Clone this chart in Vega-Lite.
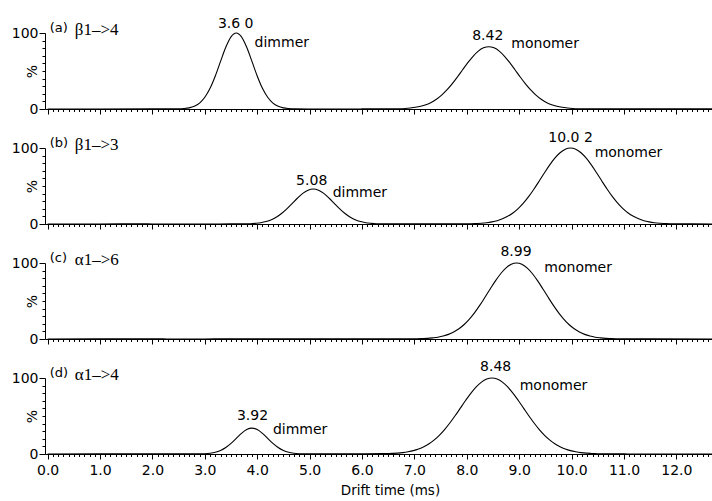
{
"$schema":"https://vega.github.io/schema/vega-lite/v6.json",
"padding":{"left":11,"top":16,"right":0,"bottom":3},
"config":{"view":{"stroke":null},"font":"DejaVu Sans"},
"datasets":{
"curves":[
{"p":"a","t":0,"v":0},{"p":"a","t":1,"v":0},{"p":"a","t":2,"v":0.1},{"p":"a","t":2.4,"v":0.1},{"p":"a","t":2.5,"v":0.2},{"p":"a","t":2.6,"v":0.6},{"p":"a","t":2.7,"v":1.5},{"p":"a","t":2.8,"v":3.6},{"p":"a","t":2.9,"v":7.8},{"p":"a","t":3.0,"v":15.4},{"p":"a","t":3.1,"v":27.2},{"p":"a","t":3.2,"v":43.5},{"p":"a","t":3.3,"v":62.6},{"p":"a","t":3.4,"v":81.2},{"p":"a","t":3.5,"v":94.9},{"p":"a","t":3.6,"v":100},{"p":"a","t":3.7,"v":94.9},{"p":"a","t":3.8,"v":81.2},{"p":"a","t":3.9,"v":62.6},{"p":"a","t":4.0,"v":43.5},{"p":"a","t":4.1,"v":27.2},{"p":"a","t":4.2,"v":15.4},{"p":"a","t":4.3,"v":7.8},{"p":"a","t":4.4,"v":3.6},{"p":"a","t":4.5,"v":1.5},{"p":"a","t":4.6,"v":0.6},{"p":"a","t":4.7,"v":0.2},{"p":"a","t":5.0,"v":0},{"p":"a","t":6.0,"v":0.1},{"p":"a","t":6.5,"v":0.2},
{"p":"a","t":6.72,"v":0.4},{"p":"a","t":6.82,"v":0.7},{"p":"a","t":6.92,"v":1.3},{"p":"a","t":7.02,"v":2.2},{"p":"a","t":7.12,"v":3.6},{"p":"a","t":7.22,"v":5.7},{"p":"a","t":7.32,"v":8.7},{"p":"a","t":7.42,"v":12.9},{"p":"a","t":7.52,"v":18.3},{"p":"a","t":7.62,"v":25.1},{"p":"a","t":7.72,"v":33.1},{"p":"a","t":7.82,"v":42.1},{"p":"a","t":7.92,"v":51.6},{"p":"a","t":8.02,"v":61.0},{"p":"a","t":8.12,"v":69.4},{"p":"a","t":8.22,"v":76.2},{"p":"a","t":8.32,"v":80.5},{"p":"a","t":8.42,"v":82},{"p":"a","t":8.52,"v":80.5},{"p":"a","t":8.62,"v":76.2},{"p":"a","t":8.72,"v":69.4},{"p":"a","t":8.82,"v":61.0},{"p":"a","t":8.92,"v":51.6},{"p":"a","t":9.02,"v":42.1},{"p":"a","t":9.12,"v":33.1},{"p":"a","t":9.22,"v":25.1},{"p":"a","t":9.32,"v":18.3},{"p":"a","t":9.42,"v":12.9},{"p":"a","t":9.52,"v":8.7},{"p":"a","t":9.62,"v":5.7},{"p":"a","t":9.72,"v":3.6},{"p":"a","t":9.82,"v":2.2},{"p":"a","t":9.92,"v":1.3},{"p":"a","t":10.02,"v":0.7},{"p":"a","t":10.12,"v":0.4},{"p":"a","t":10.5,"v":0.2},{"p":"a","t":11.0,"v":0.1},{"p":"a","t":12.0,"v":0.3},{"p":"a","t":12.68,"v":0.2},
{"p":"b","t":0,"v":0},{"p":"b","t":1.0,"v":0},{"p":"b","t":1.8,"v":0.3},{"p":"b","t":2.0,"v":0},{"p":"b","t":3.0,"v":0},{"p":"b","t":3.5,"v":0.1},
{"p":"b","t":3.87,"v":0.4},{"p":"b","t":3.97,"v":0.9},{"p":"b","t":4.07,"v":1.7},{"p":"b","t":4.17,"v":3.2},{"p":"b","t":4.27,"v":5.6},{"p":"b","t":4.37,"v":9.2},{"p":"b","t":4.47,"v":14.1},{"p":"b","t":4.57,"v":20.2},{"p":"b","t":4.67,"v":27.2},{"p":"b","t":4.77,"v":34.2},{"p":"b","t":4.87,"v":40.3},{"p":"b","t":4.97,"v":44.5},{"p":"b","t":5.07,"v":46},{"p":"b","t":5.17,"v":44.5},{"p":"b","t":5.27,"v":40.3},{"p":"b","t":5.37,"v":34.2},{"p":"b","t":5.47,"v":27.2},{"p":"b","t":5.57,"v":20.2},{"p":"b","t":5.67,"v":14.1},{"p":"b","t":5.77,"v":9.2},{"p":"b","t":5.87,"v":5.6},{"p":"b","t":5.97,"v":3.2},{"p":"b","t":6.07,"v":1.7},{"p":"b","t":6.17,"v":0.9},{"p":"b","t":6.27,"v":0.4},{"p":"b","t":6.6,"v":0.1},{"p":"b","t":7.2,"v":0.2},{"p":"b","t":7.7,"v":0.3},
{"p":"b","t":8.08,"v":0.3},{"p":"b","t":8.18,"v":0.6},{"p":"b","t":8.28,"v":1.0},{"p":"b","t":8.38,"v":1.7},{"p":"b","t":8.48,"v":2.8},{"p":"b","t":8.58,"v":4.4},{"p":"b","t":8.68,"v":6.8},{"p":"b","t":8.78,"v":10.1},{"p":"b","t":8.88,"v":14.5},{"p":"b","t":8.98,"v":20.3},{"p":"b","t":9.08,"v":27.5},{"p":"b","t":9.18,"v":36.0},{"p":"b","t":9.28,"v":45.8},{"p":"b","t":9.38,"v":56.3},{"p":"b","t":9.48,"v":67.1},{"p":"b","t":9.58,"v":77.5},{"p":"b","t":9.68,"v":86.6},{"p":"b","t":9.78,"v":93.8},{"p":"b","t":9.88,"v":98.4},{"p":"b","t":9.98,"v":100},{"p":"b","t":10.08,"v":98.4},{"p":"b","t":10.18,"v":93.8},{"p":"b","t":10.28,"v":86.6},{"p":"b","t":10.38,"v":77.5},{"p":"b","t":10.48,"v":67.1},{"p":"b","t":10.58,"v":56.3},{"p":"b","t":10.68,"v":45.8},{"p":"b","t":10.78,"v":36.0},{"p":"b","t":10.88,"v":27.5},{"p":"b","t":10.98,"v":20.3},{"p":"b","t":11.08,"v":14.5},{"p":"b","t":11.18,"v":10.1},{"p":"b","t":11.28,"v":6.8},{"p":"b","t":11.38,"v":4.4},{"p":"b","t":11.48,"v":2.8},{"p":"b","t":11.58,"v":1.7},{"p":"b","t":11.68,"v":1.0},{"p":"b","t":11.78,"v":0.6},{"p":"b","t":11.88,"v":0.3},{"p":"b","t":12.3,"v":0.1},{"p":"b","t":12.68,"v":0},
{"p":"c","t":0,"v":0},{"p":"c","t":1.0,"v":0.1},{"p":"c","t":1.7,"v":0.3},{"p":"c","t":2.2,"v":0.1},{"p":"c","t":3.0,"v":0},{"p":"c","t":3.4,"v":0.2},{"p":"c","t":4.0,"v":0.1},{"p":"c","t":5.0,"v":0.1},{"p":"c","t":6.0,"v":0.1},{"p":"c","t":6.6,"v":0.2},
{"p":"c","t":7.05,"v":0.3},{"p":"c","t":7.15,"v":0.5},{"p":"c","t":7.25,"v":0.8},{"p":"c","t":7.35,"v":1.5},{"p":"c","t":7.45,"v":2.4},{"p":"c","t":7.55,"v":3.9},{"p":"c","t":7.65,"v":6.1},{"p":"c","t":7.75,"v":9.3},{"p":"c","t":7.85,"v":13.5},{"p":"c","t":7.95,"v":19.1},{"p":"c","t":8.05,"v":26.2},{"p":"c","t":8.15,"v":34.7},{"p":"c","t":8.25,"v":44.5},{"p":"c","t":8.35,"v":55.2},{"p":"c","t":8.45,"v":66.2},{"p":"c","t":8.55,"v":76.8},{"p":"c","t":8.65,"v":86.2},{"p":"c","t":8.75,"v":93.6},{"p":"c","t":8.85,"v":98.4},{"p":"c","t":8.95,"v":100},{"p":"c","t":9.05,"v":98.4},{"p":"c","t":9.15,"v":93.6},{"p":"c","t":9.25,"v":86.2},{"p":"c","t":9.35,"v":76.8},{"p":"c","t":9.45,"v":66.2},{"p":"c","t":9.55,"v":55.2},{"p":"c","t":9.65,"v":44.5},{"p":"c","t":9.75,"v":34.7},{"p":"c","t":9.85,"v":26.2},{"p":"c","t":9.95,"v":19.1},{"p":"c","t":10.05,"v":13.5},{"p":"c","t":10.15,"v":9.3},{"p":"c","t":10.25,"v":6.1},{"p":"c","t":10.35,"v":3.9},{"p":"c","t":10.45,"v":2.4},{"p":"c","t":10.55,"v":1.5},{"p":"c","t":10.65,"v":0.8},{"p":"c","t":10.75,"v":0.5},{"p":"c","t":10.85,"v":0.3},{"p":"c","t":11.5,"v":0.1},{"p":"c","t":12.68,"v":0},
{"p":"d","t":0,"v":0},{"p":"d","t":1.0,"v":0.1},{"p":"d","t":2.0,"v":0.1},{"p":"d","t":2.7,"v":0.2},
{"p":"d","t":2.9,"v":0.2},{"p":"d","t":3.0,"v":0.4},{"p":"d","t":3.1,"v":1.0},{"p":"d","t":3.2,"v":2.2},{"p":"d","t":3.3,"v":4.6},{"p":"d","t":3.4,"v":8.5},{"p":"d","t":3.5,"v":14.0},{"p":"d","t":3.6,"v":20.6},{"p":"d","t":3.7,"v":27.2},{"p":"d","t":3.8,"v":32.2},{"p":"d","t":3.9,"v":34},{"p":"d","t":4.0,"v":32.2},{"p":"d","t":4.1,"v":27.2},{"p":"d","t":4.2,"v":20.6},{"p":"d","t":4.3,"v":14.0},{"p":"d","t":4.4,"v":8.5},{"p":"d","t":4.5,"v":4.6},{"p":"d","t":4.6,"v":2.2},{"p":"d","t":4.7,"v":1.0},{"p":"d","t":4.8,"v":0.4},{"p":"d","t":4.9,"v":0.1},{"p":"d","t":5.5,"v":0.1},{"p":"d","t":6.0,"v":0.3},
{"p":"d","t":6.38,"v":0.5},{"p":"d","t":6.48,"v":0.6},{"p":"d","t":6.58,"v":0.8},{"p":"d","t":6.68,"v":1.1},{"p":"d","t":6.78,"v":1.8},{"p":"d","t":6.88,"v":2.9},{"p":"d","t":6.98,"v":4.4},{"p":"d","t":7.08,"v":6.6},{"p":"d","t":7.18,"v":9.6},{"p":"d","t":7.28,"v":13.5},{"p":"d","t":7.38,"v":18.6},{"p":"d","t":7.48,"v":24.9},{"p":"d","t":7.58,"v":32.5},{"p":"d","t":7.68,"v":41.1},{"p":"d","t":7.78,"v":50.6},{"p":"d","t":7.88,"v":60.7},{"p":"d","t":7.98,"v":70.7},{"p":"d","t":8.08,"v":80.1},{"p":"d","t":8.18,"v":88.2},{"p":"d","t":8.28,"v":94.6},{"p":"d","t":8.38,"v":98.6},{"p":"d","t":8.48,"v":100},{"p":"d","t":8.58,"v":98.6},{"p":"d","t":8.68,"v":94.6},{"p":"d","t":8.78,"v":88.2},{"p":"d","t":8.88,"v":80.1},{"p":"d","t":8.98,"v":70.7},{"p":"d","t":9.08,"v":60.7},{"p":"d","t":9.18,"v":50.6},{"p":"d","t":9.28,"v":41.1},{"p":"d","t":9.38,"v":32.5},{"p":"d","t":9.48,"v":24.9},{"p":"d","t":9.58,"v":18.6},{"p":"d","t":9.68,"v":13.5},{"p":"d","t":9.78,"v":9.6},{"p":"d","t":9.88,"v":6.6},{"p":"d","t":9.98,"v":4.4},{"p":"d","t":10.08,"v":2.9},{"p":"d","t":10.18,"v":1.8},{"p":"d","t":10.28,"v":1.1},{"p":"d","t":10.38,"v":0.7},{"p":"d","t":10.48,"v":0.4},{"p":"d","t":10.58,"v":0.2},{"p":"d","t":11.0,"v":0.1},{"p":"d","t":12.0,"v":0},{"p":"d","t":12.68,"v":0}
],
"labels":[
{"p":"a","k":"val","t":3.59,"v":112,"label":"3.6 0"},{"p":"a","k":"name","t":3.95,"v":87,"label":"dimmer"},{"p":"a","k":"val","t":8.40,"v":96,"label":"8.42"},{"p":"a","k":"name","t":8.85,"v":86,"label":"monomer"},{"p":"a","k":"tag","t":0.04,"v":107,"label":"(a)"},{"p":"a","k":"greek","t":0.52,"v":104,"label":"β1–>4"},
{"p":"b","k":"val","t":5.04,"v":56,"label":"5.08"},{"p":"b","k":"name","t":5.44,"v":41,"label":"dimmer"},{"p":"b","k":"val","t":9.98,"v":113,"label":"10.0 2"},{"p":"b","k":"name","t":10.44,"v":93,"label":"monomer"},{"p":"b","k":"tag","t":0.04,"v":107,"label":"(b)"},{"p":"b","k":"greek","t":0.52,"v":104,"label":"β1–>3"},
{"p":"c","k":"val","t":8.94,"v":115,"label":"8.99"},{"p":"c","k":"name","t":9.48,"v":94,"label":"monomer"},{"p":"c","k":"tag","t":0.04,"v":107,"label":"(c)"},{"p":"c","k":"greek","t":0.52,"v":104,"label":"α1–>6"},
{"p":"d","k":"val","t":3.91,"v":50,"label":"3.92"},{"p":"d","k":"name","t":4.30,"v":31,"label":"dimmer"},{"p":"d","k":"val","t":8.55,"v":115,"label":"8.48"},{"p":"d","k":"name","t":9.01,"v":90,"label":"monomer"},{"p":"d","k":"tag","t":0.04,"v":107,"label":"(d)"},{"p":"d","k":"greek","t":0.52,"v":104,"label":"α1–>4"}
]
},
"vconcat":[
{"width":667,"height":76,
"encoding":{
"x":{"field":"t","type":"quantitative","scale":{"domain":[-0.05,12.68],"nice":false,"zero":false},"axis":{"values":[0,0.1,0.2,0.3,0.4,0.5,0.6,0.7,0.8,0.9,1,1.1,1.2,1.3,1.4,1.5,1.6,1.7,1.8,1.9,2,2.1,2.2,2.3,2.4,2.5,2.6,2.7,2.8,2.9,3,3.1,3.2,3.3,3.4,3.5,3.6,3.7,3.8,3.9,4,4.1,4.2,4.3,4.4,4.5,4.6,4.7,4.8,4.9,5,5.1,5.2,5.3,5.4,5.5,5.6,5.7,5.8,5.9,6,6.1,6.2,6.3,6.4,6.5,6.6,6.7,6.8,6.9,7,7.1,7.2,7.3,7.4,7.5,7.6,7.7,7.8,7.9,8,8.1,8.2,8.3,8.4,8.5,8.6,8.7,8.8,8.9,9,9.1,9.2,9.3,9.4,9.5,9.6,9.7,9.8,9.9,10,10.1,10.2,10.3,10.4,10.5,10.6,10.7,10.8,10.9,11,11.1,11.2,11.3,11.4,11.5,11.6,11.7,11.8,11.9,12,12.1,12.2,12.3,12.4,12.5,12.6],"labels":false,"title":null,"grid":false,"domainColor":"black","tickColor":"black","tickSize":{"condition":{"test":"abs(datum.value-round(datum.value))<0.001","value":5},"value":2.5}}},
"y":{"field":"v","type":"quantitative","scale":{"domain":[0,100],"nice":false},"axis":{"values":[0,10,20,30,40,50,60,70,80,90,100],"labelExpr":"datum.value==0||datum.value==100 ? datum.label : ''","tickSize":{"condition":{"test":"datum.value==0||datum.value==100","value":6},"value":3},"labelFont":"DejaVu Sans","labelFontSize":14,"labelColor":"black","labelPadding":1,"labelOverlap":false,"labelFlush":false,"title":"%","titleFont":"DejaVu Sans","titleFontSize":14,"titleFontWeight":"normal","titleColor":"black","titleX":-13,"titleY":38,"titleBaseline":"middle","titleAlign":"center","titleAngle":270,"domainColor":"black","tickColor":"black","grid":false}}},
"layer":[
{"data":{"name":"curves"},"transform":[{"filter":"datum.p==='a'"}],"mark":{"type":"line","color":"black","strokeWidth":1.1,"interpolate":"monotone"}},
{"data":{"name":"labels"},"transform":[{"filter":"datum.p==='a' && datum.k==='val'"}],"mark":{"type":"text","align":"center","baseline":"middle","font":"DejaVu Sans","fontSize":14,"color":"black"},"encoding":{"text":{"field":"label"}}},
{"data":{"name":"labels"},"transform":[{"filter":"datum.p==='a' && datum.k==='name'"}],"mark":{"type":"text","align":"left","baseline":"middle","font":"DejaVu Sans","fontSize":14,"color":"black"},"encoding":{"text":{"field":"label"}}},
{"data":{"name":"labels"},"transform":[{"filter":"datum.p==='a' && datum.k==='tag'"}],"mark":{"type":"text","align":"left","baseline":"middle","font":"DejaVu Sans","fontSize":13,"color":"black"},"encoding":{"text":{"field":"label"}}},
{"data":{"name":"labels"},"transform":[{"filter":"datum.p==='a' && datum.k==='greek'"}],"mark":{"type":"text","align":"left","baseline":"middle","font":"Liberation Serif","fontSize":17,"color":"black"},"encoding":{"text":{"field":"label"}}}
]},
{"width":667,"height":76,
"encoding":{
"x":{"field":"t","type":"quantitative","scale":{"domain":[-0.05,12.68],"nice":false,"zero":false},"axis":{"values":[0,0.1,0.2,0.3,0.4,0.5,0.6,0.7,0.8,0.9,1,1.1,1.2,1.3,1.4,1.5,1.6,1.7,1.8,1.9,2,2.1,2.2,2.3,2.4,2.5,2.6,2.7,2.8,2.9,3,3.1,3.2,3.3,3.4,3.5,3.6,3.7,3.8,3.9,4,4.1,4.2,4.3,4.4,4.5,4.6,4.7,4.8,4.9,5,5.1,5.2,5.3,5.4,5.5,5.6,5.7,5.8,5.9,6,6.1,6.2,6.3,6.4,6.5,6.6,6.7,6.8,6.9,7,7.1,7.2,7.3,7.4,7.5,7.6,7.7,7.8,7.9,8,8.1,8.2,8.3,8.4,8.5,8.6,8.7,8.8,8.9,9,9.1,9.2,9.3,9.4,9.5,9.6,9.7,9.8,9.9,10,10.1,10.2,10.3,10.4,10.5,10.6,10.7,10.8,10.9,11,11.1,11.2,11.3,11.4,11.5,11.6,11.7,11.8,11.9,12,12.1,12.2,12.3,12.4,12.5,12.6],"labels":false,"title":null,"grid":false,"domainColor":"black","tickColor":"black","tickSize":{"condition":{"test":"abs(datum.value-round(datum.value))<0.001","value":5},"value":2.5}}},
"y":{"field":"v","type":"quantitative","scale":{"domain":[0,100],"nice":false},"axis":{"values":[0,10,20,30,40,50,60,70,80,90,100],"labelExpr":"datum.value==0||datum.value==100 ? datum.label : ''","tickSize":{"condition":{"test":"datum.value==0||datum.value==100","value":6},"value":3},"labelFont":"DejaVu Sans","labelFontSize":14,"labelColor":"black","labelPadding":1,"labelOverlap":false,"labelFlush":false,"title":"%","titleFont":"DejaVu Sans","titleFontSize":14,"titleFontWeight":"normal","titleColor":"black","titleX":-13,"titleY":38,"titleBaseline":"middle","titleAlign":"center","titleAngle":270,"domainColor":"black","tickColor":"black","grid":false}}},
"layer":[
{"data":{"name":"curves"},"transform":[{"filter":"datum.p==='b'"}],"mark":{"type":"line","color":"black","strokeWidth":1.1,"interpolate":"monotone"}},
{"data":{"name":"labels"},"transform":[{"filter":"datum.p==='b' && datum.k==='val'"}],"mark":{"type":"text","align":"center","baseline":"middle","font":"DejaVu Sans","fontSize":14,"color":"black"},"encoding":{"text":{"field":"label"}}},
{"data":{"name":"labels"},"transform":[{"filter":"datum.p==='b' && datum.k==='name'"}],"mark":{"type":"text","align":"left","baseline":"middle","font":"DejaVu Sans","fontSize":14,"color":"black"},"encoding":{"text":{"field":"label"}}},
{"data":{"name":"labels"},"transform":[{"filter":"datum.p==='b' && datum.k==='tag'"}],"mark":{"type":"text","align":"left","baseline":"middle","font":"DejaVu Sans","fontSize":13,"color":"black"},"encoding":{"text":{"field":"label"}}},
{"data":{"name":"labels"},"transform":[{"filter":"datum.p==='b' && datum.k==='greek'"}],"mark":{"type":"text","align":"left","baseline":"middle","font":"Liberation Serif","fontSize":17,"color":"black"},"encoding":{"text":{"field":"label"}}}
]},
{"width":667,"height":76,
"encoding":{
"x":{"field":"t","type":"quantitative","scale":{"domain":[-0.05,12.68],"nice":false,"zero":false},"axis":{"values":[0,0.1,0.2,0.3,0.4,0.5,0.6,0.7,0.8,0.9,1,1.1,1.2,1.3,1.4,1.5,1.6,1.7,1.8,1.9,2,2.1,2.2,2.3,2.4,2.5,2.6,2.7,2.8,2.9,3,3.1,3.2,3.3,3.4,3.5,3.6,3.7,3.8,3.9,4,4.1,4.2,4.3,4.4,4.5,4.6,4.7,4.8,4.9,5,5.1,5.2,5.3,5.4,5.5,5.6,5.7,5.8,5.9,6,6.1,6.2,6.3,6.4,6.5,6.6,6.7,6.8,6.9,7,7.1,7.2,7.3,7.4,7.5,7.6,7.7,7.8,7.9,8,8.1,8.2,8.3,8.4,8.5,8.6,8.7,8.8,8.9,9,9.1,9.2,9.3,9.4,9.5,9.6,9.7,9.8,9.9,10,10.1,10.2,10.3,10.4,10.5,10.6,10.7,10.8,10.9,11,11.1,11.2,11.3,11.4,11.5,11.6,11.7,11.8,11.9,12,12.1,12.2,12.3,12.4,12.5,12.6],"labels":false,"title":null,"grid":false,"domainColor":"black","tickColor":"black","tickSize":{"condition":{"test":"abs(datum.value-round(datum.value))<0.001","value":5},"value":2.5}}},
"y":{"field":"v","type":"quantitative","scale":{"domain":[0,100],"nice":false},"axis":{"values":[0,10,20,30,40,50,60,70,80,90,100],"labelExpr":"datum.value==0||datum.value==100 ? datum.label : ''","tickSize":{"condition":{"test":"datum.value==0||datum.value==100","value":6},"value":3},"labelFont":"DejaVu Sans","labelFontSize":14,"labelColor":"black","labelPadding":1,"labelOverlap":false,"labelFlush":false,"title":"%","titleFont":"DejaVu Sans","titleFontSize":14,"titleFontWeight":"normal","titleColor":"black","titleX":-13,"titleY":38,"titleBaseline":"middle","titleAlign":"center","titleAngle":270,"domainColor":"black","tickColor":"black","grid":false}}},
"layer":[
{"data":{"name":"curves"},"transform":[{"filter":"datum.p==='c'"}],"mark":{"type":"line","color":"black","strokeWidth":1.1,"interpolate":"monotone"}},
{"data":{"name":"labels"},"transform":[{"filter":"datum.p==='c' && datum.k==='val'"}],"mark":{"type":"text","align":"center","baseline":"middle","font":"DejaVu Sans","fontSize":14,"color":"black"},"encoding":{"text":{"field":"label"}}},
{"data":{"name":"labels"},"transform":[{"filter":"datum.p==='c' && datum.k==='name'"}],"mark":{"type":"text","align":"left","baseline":"middle","font":"DejaVu Sans","fontSize":14,"color":"black"},"encoding":{"text":{"field":"label"}}},
{"data":{"name":"labels"},"transform":[{"filter":"datum.p==='c' && datum.k==='tag'"}],"mark":{"type":"text","align":"left","baseline":"middle","font":"DejaVu Sans","fontSize":13,"color":"black"},"encoding":{"text":{"field":"label"}}},
{"data":{"name":"labels"},"transform":[{"filter":"datum.p==='c' && datum.k==='greek'"}],"mark":{"type":"text","align":"left","baseline":"middle","font":"Liberation Serif","fontSize":17,"color":"black"},"encoding":{"text":{"field":"label"}}}
]},
{"width":667,"height":76,
"encoding":{
"x":{"field":"t","type":"quantitative","scale":{"domain":[-0.05,12.68],"nice":false,"zero":false},"axis":{"values":[0,0.1,0.2,0.3,0.4,0.5,0.6,0.7,0.8,0.9,1,1.1,1.2,1.3,1.4,1.5,1.6,1.7,1.8,1.9,2,2.1,2.2,2.3,2.4,2.5,2.6,2.7,2.8,2.9,3,3.1,3.2,3.3,3.4,3.5,3.6,3.7,3.8,3.9,4,4.1,4.2,4.3,4.4,4.5,4.6,4.7,4.8,4.9,5,5.1,5.2,5.3,5.4,5.5,5.6,5.7,5.8,5.9,6,6.1,6.2,6.3,6.4,6.5,6.6,6.7,6.8,6.9,7,7.1,7.2,7.3,7.4,7.5,7.6,7.7,7.8,7.9,8,8.1,8.2,8.3,8.4,8.5,8.6,8.7,8.8,8.9,9,9.1,9.2,9.3,9.4,9.5,9.6,9.7,9.8,9.9,10,10.1,10.2,10.3,10.4,10.5,10.6,10.7,10.8,10.9,11,11.1,11.2,11.3,11.4,11.5,11.6,11.7,11.8,11.9,12,12.1,12.2,12.3,12.4,12.5,12.6],"labelExpr":"abs(datum.value-round(datum.value))<0.001 ? format(datum.value,'.1f') : ''","labelFont":"DejaVu Sans","labelFontSize":14,"labelColor":"black","labelPadding":4,"labelOverlap":false,"labelFlush":false,"title":"Drift time (ms)","titleFont":"DejaVu Sans","titleFontSize":13.5,"titleFontWeight":"normal","titleColor":"black","titlePadding":6,"titleX":345,"titleAlign":"center","grid":false,"domainColor":"black","tickColor":"black","tickSize":{"condition":{"test":"abs(datum.value-round(datum.value))<0.001","value":5},"value":2.5}}},
"y":{"field":"v","type":"quantitative","scale":{"domain":[0,100],"nice":false},"axis":{"values":[0,10,20,30,40,50,60,70,80,90,100],"labelExpr":"datum.value==0||datum.value==100 ? datum.label : ''","tickSize":{"condition":{"test":"datum.value==0||datum.value==100","value":6},"value":3},"labelFont":"DejaVu Sans","labelFontSize":14,"labelColor":"black","labelPadding":1,"labelOverlap":false,"labelFlush":false,"title":"%","titleFont":"DejaVu Sans","titleFontSize":14,"titleFontWeight":"normal","titleColor":"black","titleX":-13,"titleY":38,"titleBaseline":"middle","titleAlign":"center","titleAngle":270,"domainColor":"black","tickColor":"black","grid":false}}},
"layer":[
{"data":{"name":"curves"},"transform":[{"filter":"datum.p==='d'"}],"mark":{"type":"line","color":"black","strokeWidth":1.1,"interpolate":"monotone"}},
{"data":{"name":"labels"},"transform":[{"filter":"datum.p==='d' && datum.k==='val'"}],"mark":{"type":"text","align":"center","baseline":"middle","font":"DejaVu Sans","fontSize":14,"color":"black"},"encoding":{"text":{"field":"label"}}},
{"data":{"name":"labels"},"transform":[{"filter":"datum.p==='d' && datum.k==='name'"}],"mark":{"type":"text","align":"left","baseline":"middle","font":"DejaVu Sans","fontSize":14,"color":"black"},"encoding":{"text":{"field":"label"}}},
{"data":{"name":"labels"},"transform":[{"filter":"datum.p==='d' && datum.k==='tag'"}],"mark":{"type":"text","align":"left","baseline":"middle","font":"DejaVu Sans","fontSize":13,"color":"black"},"encoding":{"text":{"field":"label"}}},
{"data":{"name":"labels"},"transform":[{"filter":"datum.p==='d' && datum.k==='greek'"}],"mark":{"type":"text","align":"left","baseline":"middle","font":"Liberation Serif","fontSize":17,"color":"black"},"encoding":{"text":{"field":"label"}}}
]}
],
"spacing":39,
"bounds":"flush"
}
